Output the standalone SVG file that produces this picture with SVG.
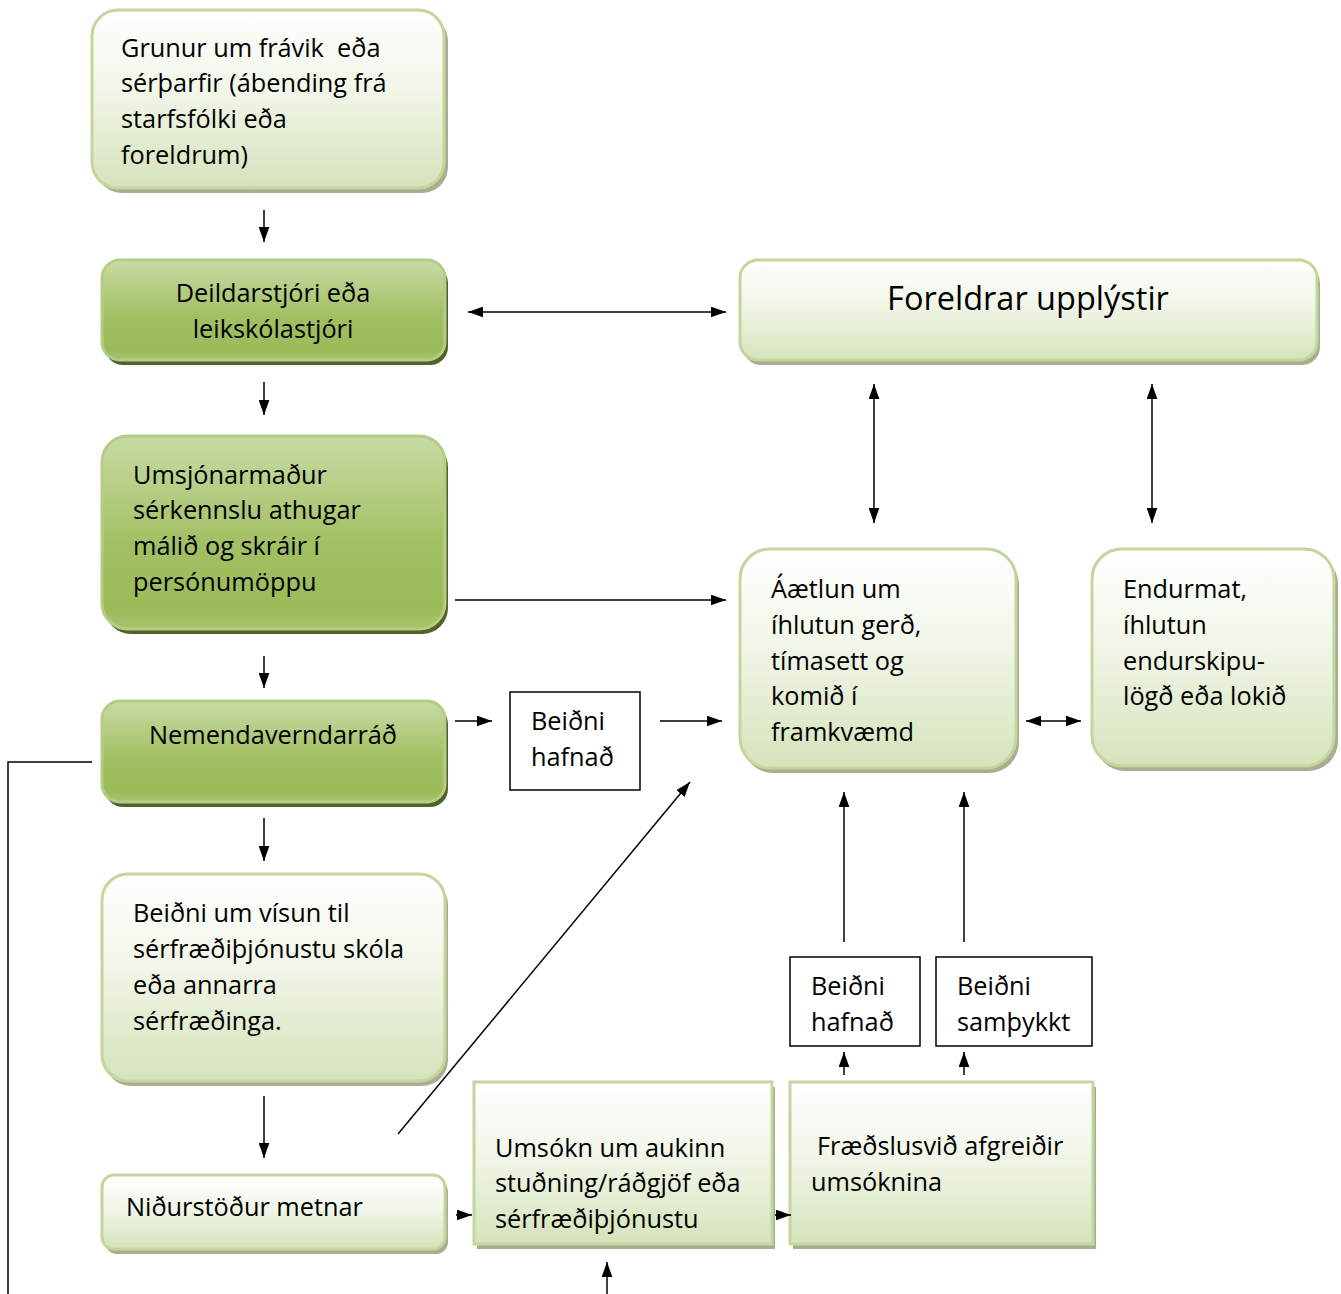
<svg xmlns="http://www.w3.org/2000/svg" width="1341" height="1294" viewBox="0 0 1341 1294">
<defs>
<linearGradient id="gl" x1="0" y1="0" x2="0" y2="1">
<stop offset="0" stop-color="#ffffff"/><stop offset="0.45" stop-color="#f1f6e8"/><stop offset="1" stop-color="#d5e3bb"/>
</linearGradient>
<linearGradient id="gd" x1="0" y1="0" x2="0" y2="1">
<stop offset="0" stop-color="#c9dba6"/><stop offset="0.55" stop-color="#a2c064"/><stop offset="0.9" stop-color="#9bbb59"/><stop offset="1" stop-color="#a9c56f"/>
</linearGradient>
<marker id="ah" viewBox="0 0 14 10" refX="14" refY="5" markerWidth="15" markerHeight="11" markerUnits="userSpaceOnUse" orient="auto-start-reverse">
<path d="M0,0 L14,5 L0,10 Z" fill="#000"/>
</marker>
</defs>
<style>
text{font-family:"Open Sans","Noto Sans","Liberation Sans",sans-serif;font-size:25.3px;fill:#000;white-space:pre}
.l{fill:url(#gl);stroke:#c3d69b;stroke-width:3}
.d{fill:url(#gd);stroke:#b5cc85;stroke-width:3}
.sl{fill:#a9ad92}
.sd{fill:#4f6228}
.c line,.c path{stroke:#000;stroke-width:1.5;fill:none}
.a{marker-end:url(#ah)}
.b{marker-start:url(#ah);marker-end:url(#ah)}
.bx{fill:#fff;stroke:#000;stroke-width:1.5}
</style>
<rect width="1341" height="1294" fill="#fff"/>

<g id="n1">
<rect class="sl" x="96" y="15" width="352" height="178" rx="26"/>
<rect class="l" x="92" y="10" width="352" height="178" rx="26"/>
<text x="121" y="57" xml:space="preserve">Grunur um frávik  eða</text>
<text x="121" y="92">sérþarfir (ábending frá</text>
<text x="121" y="128">starfsfólki eða</text>
<text x="121" y="164">foreldrum)</text>
</g>
<g id="n2">
<rect class="sd" x="105" y="265" width="343" height="100" rx="18"/>
<rect class="d" x="102" y="260" width="343" height="100" rx="18"/>
<text x="273" y="302" text-anchor="middle">Deildarstjóri eða</text>
<text x="273" y="338" text-anchor="middle">leikskólastjóri</text>
</g>
<g id="n3">
<rect class="sd" x="105" y="441" width="343" height="193" rx="26"/>
<rect class="d" x="102" y="436" width="343" height="193" rx="26"/>
<text x="133" y="484">Umsjónarmaður</text>
<text x="133" y="519">sérkennslu athugar</text>
<text x="133" y="555">málið og skráir í</text>
<text x="133" y="591">persónumöppu</text>
</g>
<g id="n4">
<rect class="sd" x="105" y="706" width="343" height="101" rx="18"/>
<rect class="d" x="102" y="701" width="343" height="101" rx="18"/>
<text x="273" y="744" text-anchor="middle">Nemendaverndarráð</text>
</g>
<g id="n5">
<rect class="sl" x="105" y="879" width="343" height="207" rx="26"/>
<rect class="l" x="102" y="874" width="343" height="207" rx="26"/>
<text x="133" y="922">Beiðni um vísun til</text>
<text x="133" y="958">sérfræðiþjónustu skóla</text>
<text x="133" y="994">eða annarra</text>
<text x="133" y="1030">sérfræðinga.</text>
</g>
<g id="n6">
<rect class="sl" x="105" y="1180" width="343" height="74" rx="12"/>
<rect class="l" x="102" y="1175" width="343" height="74" rx="12"/>
<text x="126" y="1216">Niðurstöður metnar</text>
</g>
<g id="n7">
<rect class="sl" x="477" y="1087" width="298" height="162"/>
<rect class="l" x="474" y="1082" width="298" height="162"/>
<text x="495" y="1157">Umsókn um aukinn</text>
<text x="495" y="1192">stuðning/ráðgjöf eða</text>
<text x="495" y="1228">sérfræðiþjónustu</text>
</g>
<g id="n8">
<rect class="sl" x="793" y="1087" width="303" height="162"/>
<rect class="l" x="790" y="1082" width="303" height="162"/>
<text x="817" y="1155">Fræðslusvið afgreiðir</text>
<text x="811" y="1191">umsóknina</text>
</g>
<g id="n9">
<rect class="sl" x="743" y="265" width="577" height="100" rx="18"/>
<rect class="l" x="740" y="260" width="577" height="100" rx="18"/>
<text x="1028" y="310" text-anchor="middle" style="font-size:32.5px">Foreldrar upplýstir</text>
</g>
<g id="n10">
<rect class="sl" x="743" y="554" width="276" height="219" rx="30"/>
<rect class="l" x="740" y="549" width="276" height="219" rx="30"/>
<text x="771" y="598">Áætlun um</text>
<text x="771" y="634">íhlutun gerð,</text>
<text x="771" y="670">tímasett og</text>
<text x="771" y="705">komið í</text>
<text x="771" y="741">framkvæmd</text>
</g>
<g id="n11">
<rect class="sl" x="1095" y="554" width="243" height="217" rx="30"/>
<rect class="l" x="1092" y="549" width="242" height="217" rx="30"/>
<text x="1123" y="598">Endurmat,</text>
<text x="1123" y="634">íhlutun</text>
<text x="1123" y="670">endurskipu-</text>
<text x="1123" y="705">lögð eða lokið</text>
</g>
<g id="n12">
<rect class="bx" x="510" y="692" width="130" height="98"/>
<text x="531" y="730">Beiðni</text>
<text x="531" y="766">hafnað</text>
</g>
<g id="n13">
<rect class="bx" x="790" y="957" width="130" height="89"/>
<text x="811" y="995">Beiðni</text>
<text x="811" y="1031">hafnað</text>
</g>
<g id="n14">
<rect class="bx" x="936" y="957" width="156" height="89"/>
<text x="957" y="995">Beiðni</text>
<text x="957" y="1031">samþykkt</text>
</g>

<g class="c">
<line class="a" x1="264" y1="210" x2="264" y2="242"/>
<line class="a" x1="264" y1="382" x2="264" y2="415"/>
<line class="a" x1="264" y1="656" x2="264" y2="688"/>
<line class="a" x1="264" y1="818" x2="264" y2="861"/>
<line class="a" x1="264" y1="1096" x2="264" y2="1158"/>
<line class="b" x1="468" y1="312" x2="726" y2="312"/>
<line class="b" x1="874" y1="384" x2="874" y2="523"/>
<line class="b" x1="1152" y1="384" x2="1152" y2="523"/>
<line class="a" x1="455" y1="600" x2="726" y2="600"/>
<line class="a" x1="455" y1="721" x2="492" y2="721"/>
<line class="a" x1="660" y1="721" x2="722" y2="721"/>
<line class="b" x1="1026" y1="721" x2="1081" y2="721"/>
<line class="a" x1="398" y1="1134" x2="690" y2="782"/>
<line class="a" x1="844" y1="942" x2="844" y2="792"/>
<line class="a" x1="964" y1="942" x2="964" y2="792"/>
<line class="a" x1="844" y1="1075" x2="844" y2="1052"/>
<line class="a" x1="964" y1="1075" x2="964" y2="1052"/>
<line class="a" x1="456" y1="1215" x2="472" y2="1215"/>
<line class="a" x1="775" y1="1215" x2="791" y2="1215"/>
<line class="a" x1="607" y1="1294" x2="607" y2="1262"/>
<path d="M92,762 H8 V1294"/>
</g>
</svg>
